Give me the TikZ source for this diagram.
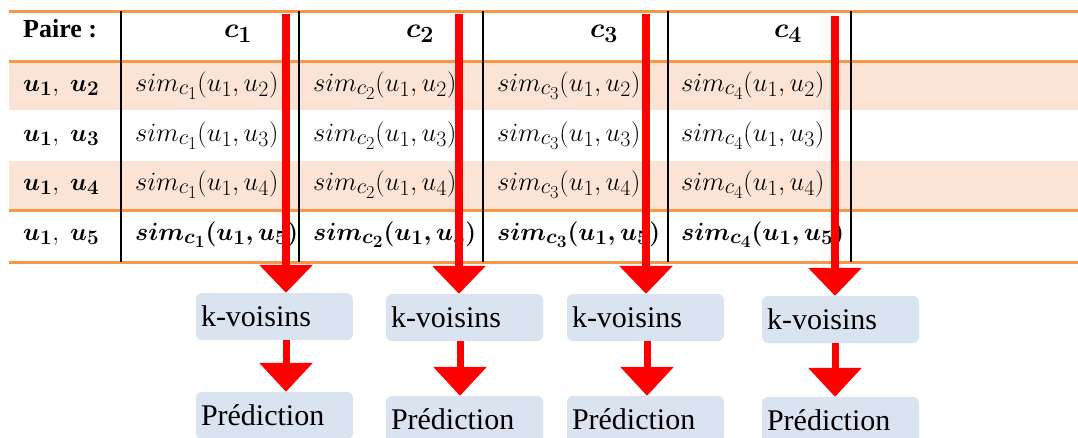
\documentclass[tikz,border=0pt]{standalone}
\usepackage{amsmath}
\usepackage{graphicx}
\usepackage[no-math]{fontspec}
\setmainfont{Liberation Serif}
\usetikzlibrary{arrows.meta}
\definecolor{orangeline}{HTML}{F79646}
\definecolor{peach}{HTML}{FBE4D5}
\definecolor{boxblue}{HTML}{DAE3F0}
\definecolor{arrowred}{HTML}{FF0000}
\newcommand{\mth}[1]{\scalebox{1.06}{$#1$}}
\newcommand{\hmth}[1]{\scalebox{1.12}{$#1$}}
\tikzset{
  rowshade/.style={fill=peach, draw=none},
  hrule/.style={draw=orangeline, line width=3pt},
  vrule/.style={draw=black, line width=1.8pt},
  cell/.style={anchor=base west, inner sep=0pt, font=\fontsize{24.88}{30}\selectfont},
  headcell/.style={anchor=base, inner sep=0pt, font=\fontsize{24.88}{30}\selectfont},
  labelcell/.style={anchor=base west, inner sep=0pt, font=\fontsize{26}{30}\selectfont\bfseries},
  kbox/.style={fill=boxblue, rounded corners=6pt, minimum height=47pt, text width=147pt,
    align=left, inner xsep=5pt, inner ysep=0pt, font=\fontsize{30}{34}\selectfont},
  bigarrow/.style={draw=arrowred, line width=8pt, -{Triangle[width=52pt,length=28pt]}, arrowred},
  smallarrow/.style={draw=arrowred, line width=7pt, -{Triangle[width=52pt,length=29pt]}, arrowred}
}
\begin{document}
\begin{tikzpicture}[x=1pt,y=-1pt]
\useasboundingbox (0,0) rectangle (1078,437);
\clip (0,0) rectangle (1078,437);
% shading
\fill[rowshade] (9,62) rectangle (1078,110);
\fill[rowshade] (9,161) rectangle (1078,210);
% orange rules
\foreach \yy in {11,61,210,262} \draw[hrule] (9,\yy) -- (1078,\yy);
% vertical rules
\foreach \xx in {121,299,483,668,851} \draw[vrule] (\xx,11) -- (\xx,262);
% header
\node[labelcell] (hp) at (23,37) {Paire :};
\node[headcell] (h1) at (238,37) {\hmth{\boldsymbol{c_1}}};
\node[headcell] (h2) at (420,37) {\hmth{\boldsymbol{c_2}}};
\node[headcell] (h3) at (604,37) {\hmth{\boldsymbol{c_3}}};
\node[headcell] (h4) at (788,37) {\hmth{\boldsymbol{c_4}}};
% rows
\foreach \r/\yy in {2/91,3/141,4/190} {
  \node[cell] (l\r) at (23,\yy) {$\boldsymbol{u_1},\;\boldsymbol{u_\r}$};
  \node[cell] (s1\r) at (135,\yy) {\mth{sim_{c_1}(u_1,u_\r)}};
  \node[cell] (s2\r) at (313,\yy) {\mth{sim_{c_2}(u_1,u_\r)}};
  \node[cell] (s3\r) at (497,\yy) {\mth{sim_{c_3}(u_1,u_\r)}};
  \node[cell] (s4\r) at (681,\yy) {\mth{sim_{c_4}(u_1,u_\r)}};
}
\node[cell] (l5) at (23,240) {$\boldsymbol{u_1},\;\boldsymbol{u_5}$};
\node[cell] (s15) at (135,240) {$\boldsymbol{sim_{c_1}(u_1,u_5)}$};
\node[cell] (s25) at (313,240) {$\boldsymbol{sim_{c_2}(u_1,u_5)}$};
\node[cell] (s35) at (497,240) {$\boldsymbol{sim_{c_3}(u_1,u_5)}$};
\node[cell] (s45) at (681,240) {$\boldsymbol{sim_{c_4}(u_1,u_5)}$};
% boxes
\node[kbox] (kv1) at (274.5,316.5) {k-voisins};
\node[kbox] (kv2) at (464.5,317.5) {k-voisins};
\node[kbox] (kv3) at (645.5,317.5) {k-voisins};
\node[kbox] (kv4) at (840.5,319.5) {k-voisins};
\node[kbox] (pr1) at (274.5,415.5) {Prédiction};
\node[kbox] (pr2) at (464.5,419.5) {Prédiction};
\node[kbox] (pr3) at (645.5,419.5) {Prédiction};
\node[kbox] (pr4) at (840.5,420.5) {Prédiction};
% arrow starts
\coordinate (t1) at (286,14);
\coordinate (t2) at (459,14);
\coordinate (t3) at (646,14);
\coordinate (t4) at (835,16);
\coordinate (m1) at (286,0);
\coordinate (m2) at (460,0);
\coordinate (m3) at (647,0);
\coordinate (m4) at (835,0);
\foreach \i in {1,2,3,4} {
  \draw[bigarrow] (t\i) -- (t\i |- kv\i.north);
  \draw[smallarrow] (m\i |- kv\i.south) -- (m\i |- pr\i.north);
}
\end{tikzpicture}
\end{document}
